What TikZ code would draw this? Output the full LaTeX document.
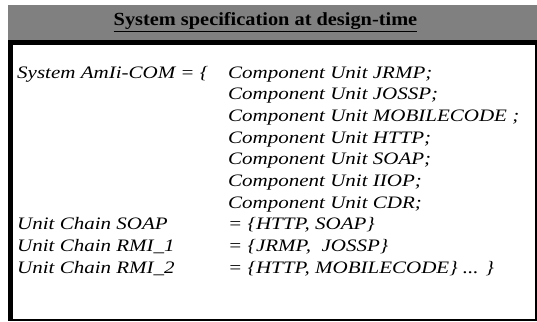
\documentclass[tikz,border=0pt]{standalone}
\usepackage{fontspec}
\setmainfont{Liberation Serif}
\newfontfamily\specfont[FakeStretch=1.2]{Liberation Serif}
\newfontfamily\headfont[FakeStretch=1.1]{Liberation Serif}
\definecolor{bandgray}{HTML}{808080}
\tikzset{
  spec/.style={anchor=base west, inner sep=0pt, font=\specfont\itshape\fontsize{17.5}{20}\selectfont},
  title/.style={anchor=base, inner sep=0pt, font=\headfont\bfseries\fontsize{18.5}{21}\selectfont}
}
\begin{document}
\begin{tikzpicture}[x=1pt, y=-1pt]
\useasboundingbox (0,0) rectangle (537,321);
% header band
\fill[bandgray] (8,5) rectangle (537,40);
\node[title] (title) at (265.5,26) {\underline{System specification at design-time}};
% framed body: heavy top/left edge, lighter right/bottom edge
\fill[black] (8,40) rectangle (537,321);
\fill[white] (12.5,45) rectangle (534.5,318.5);
% left column
\node[spec] (sys) at (17,78) {System AmIi-COM = \{};
\node[spec] (ucsoap) at (17,229.7) {Unit Chain SOAP};
\node[spec] (ucrmi1) at (17,251.3) {Unit Chain RMI\_1};
\node[spec] (ucrmi2) at (17,273) {Unit Chain RMI\_2};
% right column
\node[spec] (c1) at (228,78) {Component Unit JRMP;};
\node[spec] (c2) at (228,99.7) {Component Unit JOSSP;};
\node[spec] (c3) at (228,121.3) {Component Unit MOBILECODE ;};
\node[spec] (c4) at (228,143) {Component Unit HTTP;};
\node[spec] (c5) at (228,164.7) {Component Unit SOAP;};
\node[spec] (c6) at (228,186.3) {Component Unit IIOP;};
\node[spec] (c7) at (228,208) {Component Unit CDR;};
\node[spec] (d1) at (228,229.7) {= \{HTTP, SOAP\}};
\node[spec] (d2) at (228,251.3) {= \{JRMP, \ JOSSP\}};
\node[spec] (d3) at (228,273) {= \{HTTP, MOBILECODE\} ... \}};
\end{tikzpicture}
\end{document}
